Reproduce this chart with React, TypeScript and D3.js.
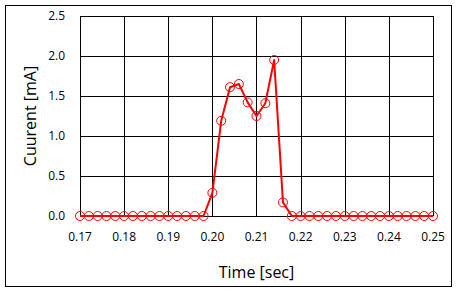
import React from "react";
import * as d3 from "d3";

const times: number[] = [
  0.170, 0.172, 0.174, 0.176, 0.178, 0.180, 0.182, 0.184, 0.186, 0.188,
  0.190, 0.192, 0.194, 0.196, 0.198, 0.200, 0.202, 0.204, 0.206, 0.208,
  0.210, 0.212, 0.214, 0.216, 0.218, 0.220, 0.222, 0.224, 0.226, 0.228,
  0.230, 0.232, 0.234, 0.236, 0.238, 0.240, 0.242, 0.244, 0.246, 0.248,
  0.250,
];
const current: number[] = [
  0, 0, 0, 0, 0, 0, 0, 0, 0, 0,
  0, 0, 0, 0, 0, 0.29, 1.19, 1.61, 1.65, 1.42,
  1.25, 1.41, 1.95, 0.17, 0, 0, 0, 0, 0, 0,
  0, 0, 0, 0, 0, 0, 0, 0, 0, 0,
  0,
];
const xTicks: number[] = [0.17, 0.18, 0.19, 0.2, 0.21, 0.22, 0.23, 0.24, 0.25];
const yTicks: number[] = [0, 0.5, 1.0, 1.5, 2.0, 2.5];
const xTitle = "Time [sec]";
const yTitle = "Cuurent [mA]";

const W = 458;
const H = 292;
const plot = { left: 80, right: 433, top: 16, bottom: 216 };
const font = "'Open Sans', 'DejaVu Sans', sans-serif";

export default function App() {
  const x = d3.scaleLinear().domain([0.17, 0.25]).range([plot.left, plot.right]);
  const y = d3.scaleLinear().domain([0, 2.5]).range([plot.bottom, plot.top]);
  const line = d3
    .line<number>()
    .x((_, i) => x(times[i]))
    .y((d) => y(d));

  return (
    <svg
      width={W}
      height={H}
      style={{ position: "absolute", left: 0, top: 0, background: "#fff" }}
    >
      <rect x={0} y={0} width={W} height={H} fill="#fff" />
      <rect x={5.5} y={5.5} width={446} height={281} fill="#fff" stroke="#000" strokeWidth={1} />
      {/* grid */}
      {yTicks.map((t) => (
        <line
          key={"gy" + t}
          x1={plot.left}
          x2={plot.right}
          y1={Math.round(y(t)) + 0.5}
          y2={Math.round(y(t)) + 0.5}
          stroke="#000"
          strokeWidth={1}
        />
      ))}
      {xTicks.map((t) => (
        <line
          key={"gx" + t}
          x1={Math.round(x(t)) + 0.5}
          x2={Math.round(x(t)) + 0.5}
          y1={plot.top}
          y2={plot.bottom}
          stroke="#000"
          strokeWidth={1}
        />
      ))}
      {/* tick labels */}
      {yTicks.map((t) => (
        <text
          key={"ly" + t}
          x={65}
          y={y(t)}
          dy="0.35em"
          textAnchor="end"
          fontFamily={font}
          fontSize={12}
          fill="#000"
        >
          {d3.format(".1f")(t)}
        </text>
      ))}
      {xTicks.map((t) => (
        <text
          key={"lx" + t}
          x={x(t)}
          y={241}
          textAnchor="middle"
          fontFamily={font}
          fontSize={12}
          fill="#000"
        >
          {d3.format(".2f")(t)}
        </text>
      ))}
      {/* axis titles */}
      <text
        x={(plot.left + plot.right) / 2}
        y={278}
        textAnchor="middle"
        fontFamily={font}
        fontSize={16}
        fill="#000"
      >
        {xTitle}
      </text>
      <text
        transform={`translate(36,${(plot.top + plot.bottom) / 2}) rotate(-90)`}
        textAnchor="middle"
        fontFamily={font}
        fontSize={16}
        fill="#000"
      >
        {yTitle}
      </text>
      {/* series */}
      <path d={line(current) ?? ""} fill="none" stroke="#ff0000" strokeWidth={2} strokeLinejoin="round" />
      {current.map((v, i) => (
        <circle
          key={"c" + i}
          cx={x(times[i])}
          cy={y(v)}
          r={4.5}
          fill="none"
          stroke="#ff0000"
          strokeWidth={1}
        />
      ))}
    </svg>
  );
}
